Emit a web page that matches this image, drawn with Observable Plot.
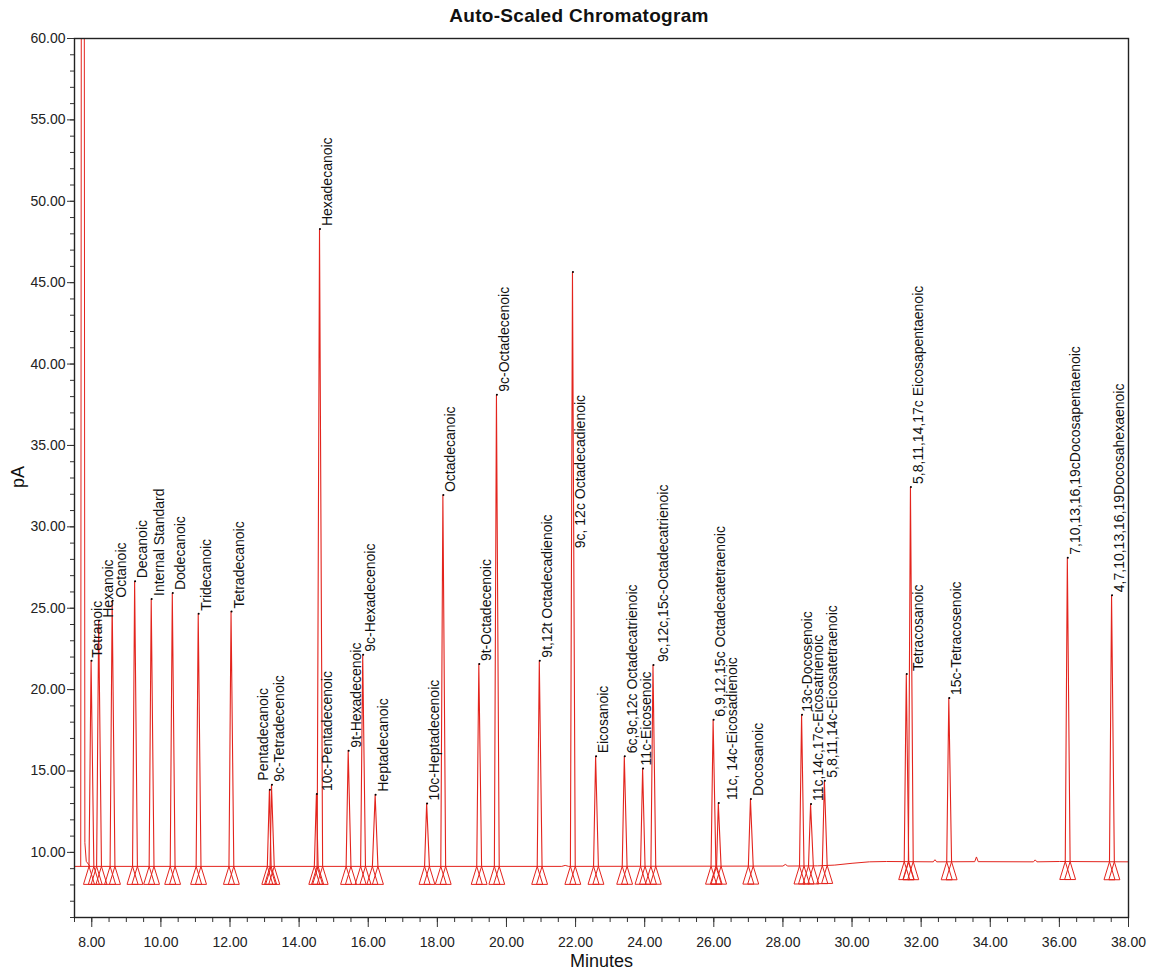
<!DOCTYPE html>
<html>
<head>
<meta charset="utf-8">
<script src="https://cdn.jsdelivr.net/npm/d3@7"></script>
<script src="https://cdn.jsdelivr.net/npm/@observablehq/plot@0.6"></script>
<style>
  body { margin: 0; background: #fff; font-family: "Liberation Sans", Arial, Helvetica, sans-serif; }
  #title { width: 1152px; height: 28px; line-height: 32px; text-align: center; font-weight: bold;
           font-size: 19px; letter-spacing: 0.3px; color: #111; padding-left: 6px; box-sizing: border-box; }
  #chart svg { display: block; }
</style>
</head>
<body>
<div id="title">Auto-Scaled Chromatogram</div>
<div id="chart"></div>
<script>
// ---------- data ----------
const peakNames = [
  "Tetranoic", "Hexanoic", "Octanoic", "Decanoic", "Internal Standard", "Dodecanoic",
  "Tridecanoic", "Tetradecanoic", "Pentadecanoic", "9c-Tetradecenoic", "10c-Pentadecenoic",
  "Hexadecanoic", "9t-Hexadecenoic", "9c-Hexadecenoic", "Heptadecanoic", "10c-Heptadecenoic",
  "Octadecanoic", "9t-Octadecenoic", "9c-Octadecenoic", "9t,12t Octadecadienoic",
  "9c, 12c Octadecadienoic", "Eicosanoic", "6c,9c,12c Octadecatrienoic", "11c-Eicosenoic",
  "9c,12c,15c-Octadecatrienoic", "6,9,12,15c Octadecatetraenoic", "11c, 14c-Eicosadienoic",
  "Docosanoic", "13c-Docosenoic", "11c,14c,17c-Eicosatrienoic", "5,8,11,14c-Eicosatetraenoic",
  "Tetracosanoic", "5,8,11,14,17c Eicosapentaenoic", "15c-Tetracosenoic",
  "7,10,13,16,19cDocosapentaenoic", "4,7,10,13,16,19Docosahexaenoic"
];
// retention time (minutes)
const peakTimes = [
  7.98, 8.20, 8.59, 9.24, 9.72, 10.33,
  11.08, 12.03, 13.14, 13.20, 14.50,
  14.59, 15.42, 15.84, 16.20, 17.69,
  18.16, 19.20, 19.71, 20.95,
  21.91, 22.58, 23.41, 23.94,
  24.24, 25.98, 26.13,
  27.06, 28.54, 28.80, 29.20,
  31.57, 31.69, 32.80,
  36.23, 37.51
];
// apex height (pA)
const peakHeights = [
  21.78, 24.23, 25.46, 26.65, 25.57, 25.93,
  24.66, 24.80, 13.85, 14.15, 13.59,
  48.29, 16.25, 22.14, 13.54, 13.01,
  31.95, 21.57, 38.11, 21.78,
  45.66, 15.90, 15.90, 15.16,
  21.51, 18.15, 13.03,
  13.28, 18.46, 12.97, 14.40,
  20.96, 32.45, 19.48,
  28.10, 25.80
];
// integration start / end markers (minutes)
const peakStarts = [
  7.92, 8.14, 8.53, 9.18, 9.66, 10.27,
  11.02, 11.97, 13.08, 13.16, 14.44,
  14.52, 15.36, 15.78, 16.12, 17.63,
  18.10, 19.14, 19.65, 20.89,
  21.85, 22.52, 23.35, 23.88,
  24.18, 25.92, 26.08,
  27.00, 28.48, 28.74, 29.14,
  31.51, 31.63, 32.74,
  36.17, 37.45
];
const peakEnds = [
  8.06, 8.28, 8.67, 9.32, 9.80, 10.41,
  11.16, 12.11, 13.19, 13.28, 14.55,
  14.68, 15.50, 15.92, 16.28, 17.77,
  18.24, 19.28, 19.79, 21.03,
  21.99, 22.66, 23.49, 24.01,
  24.32, 26.06, 26.21,
  27.14, 28.61, 28.88, 29.28,
  31.64, 31.77, 32.88,
  36.31, 37.59
];
// where a label sits when it is not at its own apex (minutes / pA)
const labelTimeOverride = {
  "Tetranoic": 7.93, "Hexanoic": 8.25, "Octanoic": 8.63,
  "Pentadecanoic": 12.75, "10c-Pentadecenoic": 14.59,
  "11c-Eicosenoic": 23.81, "9c,12c,15c-Octadecatrienoic": 24.31,
  "6,9,12,15c Octadecatetraenoic": 25.95, "11c, 14c-Eicosadienoic": 26.32,
  "13c-Docosenoic": 28.47, "Tetracosanoic": 31.69
};
const labelLevelOverride = { "9c, 12c Octadecadienoic": 28.5, "Pentadecanoic": 14.22 };

// detector baseline (minutes, pA)
const baselineTimes  = [7.5, 21.6, 21.7, 21.8, 28.0, 28.07, 28.14, 29.0, 29.5, 30.0, 30.5, 31.0, 32.35, 32.4, 32.45, 33.55, 33.6, 33.65, 35.25, 35.3, 35.35, 36.0, 38.0];
const baselineValues = [9.14, 9.14, 9.2, 9.14, 9.16, 9.26, 9.16, 9.17, 9.22, 9.33, 9.42, 9.44, 9.42, 9.55, 9.42, 9.43, 9.72, 9.43, 9.42, 9.54, 9.42, 9.44, 9.42];

// solvent front (off scale)
const solventTimes  = [7.68, 7.74, 7.80, 7.84, 7.95];
const solventValues = [9.14, 200, 10.6, 9.45, 9.14];

const xTickValues = [8, 10, 12, 14, 16, 18, 20, 22, 24, 26, 28, 30, 32, 34, 36, 38];
const yTickValues = [10, 15, 20, 25, 30, 35, 40, 45, 50, 55, 60];

// ---------- build tables ----------
const red = "#e3241d";
const baseAt = d3.scaleLinear().domain(baselineTimes).range(baselineValues);

const peaks = peakNames.map((name, i) => ({
  name,
  t: peakTimes[i],
  h: peakHeights[i],
  lx: labelTimeOverride[name] ?? peakTimes[i],
  ly: labelLevelOverride[name] ?? peakHeights[i]
}));

const spikeRows = peakNames.flatMap((name, i) => [
  { id: name, t: peakStarts[i], v: baseAt(peakStarts[i]) },
  { id: name, t: peakTimes[i], v: peakHeights[i] },
  { id: name, t: peakEnds[i], v: baseAt(peakEnds[i]) }
]);
const markerRows = peakNames.flatMap((name, i) => [
  { t: peakStarts[i], v: baseAt(peakStarts[i]) },
  { t: peakEnds[i], v: baseAt(peakEnds[i]) }
]);
const baseRows = baselineTimes.map((t, i) => ({ t, v: baselineValues[i] }));
const solventRows = solventTimes.map((t, i) => ({ t, v: solventValues[i] }));

// tall, narrow triangle with apex on the baseline
const triangle = {
  draw(ctx) {
    ctx.moveTo(0, 0);
    ctx.lineTo(5.5, 18);
    ctx.lineTo(-5.5, 18);
    ctx.closePath();
  }
};

const chart = Plot.plot({
  width: 1152,
  height: 952,
  marginTop: 10,
  marginLeft: 74,
  marginRight: 24,
  marginBottom: 63,
  x: { domain: [7.5, 38], label: null },
  y: { domain: [6, 60], label: null },
  style: { fontFamily: "'Liberation Sans', Arial, Helvetica, sans-serif", fontSize: "14px", color: "#222", background: "#fff" },
  marks: [
    Plot.axisY({ ticks: d3.range(6, 60.5, 1), tickSize: 4, tickFormat: () => "", stroke: "#333", label: null }),
    Plot.axisY({ ticks: yTickValues, tickSize: 7, tickPadding: 2, tickFormat: d => d.toFixed(2), stroke: "#333", fontSize: 14, label: null }),
    Plot.axisX({ ticks: d3.range(7.5, 38.01, 0.5), tickSize: 5, tickFormat: () => "", stroke: "#333", label: null }),
    Plot.axisX({ ticks: xTickValues, tickSize: 10, tickPadding: 10, tickFormat: d => d.toFixed(2), stroke: "#333", fontSize: 14, label: null }),
    Plot.line(baseRows, { x: "t", y: "v", stroke: red, strokeWidth: 1, curve: "linear" }),
    Plot.line(solventRows, { x: "t", y: "v", stroke: red, strokeWidth: 1, clip: true }),
    Plot.line(spikeRows, { x: "t", y: "v", z: "id", stroke: red, strokeWidth: 1.1, clip: true }),
    Plot.dot(markerRows, { x: "t", y: "v", symbol: triangle, r: 3, fill: "none", stroke: red, strokeWidth: 1 }),
    Plot.dot(peaks, { x: "t", y: "h", r: 1, fill: "#000", stroke: null, dx: 0.5 }),
    Plot.text(peaks, { x: "lx", y: "ly", text: "name", rotate: -90, textAnchor: "start", dx: 8, dy: -3, fontSize: 14, fill: "#111" }),
    Plot.text(["pA"], { frameAnchor: "left", text: d => d, rotate: -90, dx: -56, dy: 10, fontSize: 18, fill: "#111" }),
    Plot.text(["Minutes"], { frameAnchor: "bottom", text: d => d, dy: 49, fontSize: 18, fill: "#111" }),
    Plot.frame({ stroke: "#222", strokeWidth: 1.4 })
  ]
});
document.getElementById("chart").appendChild(chart);
</script>
</body>
</html>
